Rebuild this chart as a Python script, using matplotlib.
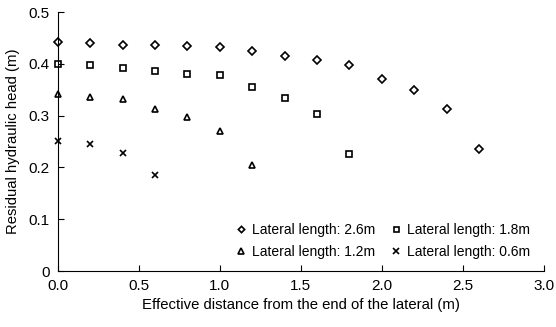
import numpy as np
import matplotlib
matplotlib.use("Agg")
import matplotlib.pyplot as plt

plt.rcParams['font.family'] = ['Liberation Sans', 'DejaVu Sans']

# lateral length 2.6 m
x_26 = [0.0, 0.2, 0.4, 0.6, 0.8, 1.0, 1.2, 1.4, 1.6, 1.8, 2.0, 2.2, 2.4, 2.6]
h_26 = [0.442, 0.440, 0.437, 0.437, 0.434, 0.432, 0.424, 0.416, 0.407, 0.398, 0.371, 0.349, 0.313, 0.235]
# lateral length 1.8 m
x_18 = [0.0, 0.2, 0.4, 0.6, 0.8, 1.0, 1.2, 1.4, 1.6, 1.8]
h_18 = [0.400, 0.398, 0.392, 0.387, 0.380, 0.378, 0.355, 0.335, 0.304, 0.226]
# lateral length 1.2 m
x_12 = [0.0, 0.2, 0.4, 0.6, 0.8, 1.0, 1.2]
h_12 = [0.341, 0.336, 0.333, 0.312, 0.297, 0.270, 0.205]
# lateral length 0.6 m
x_06 = [0.0, 0.2, 0.4, 0.6]
h_06 = [0.252, 0.245, 0.228, 0.185]

xticks = [0.0, 0.5, 1.0, 1.5, 2.0, 2.5, 3.0]
yticks = [0, 0.1, 0.2, 0.3, 0.4, 0.5]
ytick_labels = ["0", "0.1", "0.2", "0.3", "0.4", "0.5"]

fig = plt.figure(figsize=(5.56, 3.27), dpi=100)
ax = fig.add_axes([0.104, 0.171, 0.874, 0.792])

kw = dict(linestyle='none', color='black', markerfacecolor='none', markeredgewidth=1.2, clip_on=False)
p26, = ax.plot(x_26, h_26, marker='D', markersize=4, label='Lateral length: 2.6m', **kw)
p18, = ax.plot(x_18, h_18, marker='s', markersize=4.5, label='Lateral length: 1.8m', **kw)
p12, = ax.plot(x_12, h_12, marker='^', markersize=5, label='Lateral length: 1.2m', **kw)
p06, = ax.plot(x_06, h_06, marker='x', markersize=5, label='Lateral length: 0.6m', **kw)

ax.set_xlim(0, 3.0)
ax.set_ylim(0, 0.5)
ax.set_xticks(xticks)
ax.set_xticklabels([f"{t:.1f}" for t in xticks])
ax.set_yticks(yticks)
ax.set_yticklabels(ytick_labels)
ax.tick_params(direction='in', length=4, width=0.8, labelsize=11, pad=6)
for s in ['top', 'right']:
    ax.spines[s].set_visible(False)
for s in ['left', 'bottom']:
    ax.spines[s].set_linewidth(0.8)

ax.set_xlabel('Effective distance from the end of the lateral (m)', fontsize=10.7, labelpad=3)
ax.set_ylabel('Residual hydraulic head (m)', fontsize=10.7, labelpad=6)

# column-wise fill: row 1 = 2.6m, 1.8m ; row 2 = 1.2m, 0.6m
ax.legend([p26, p12, p18, p06],
          [p26.get_label(), p12.get_label(), p18.get_label(), p06.get_label()],
          loc='lower right', bbox_to_anchor=(0.998, 0.0), ncol=2, frameon=False,
          fontsize=10, handlelength=0.8, handletextpad=0.4, columnspacing=1.1,
          labelspacing=0.55, markerscale=0.8)

fig.savefig('out.png', dpi=100)
